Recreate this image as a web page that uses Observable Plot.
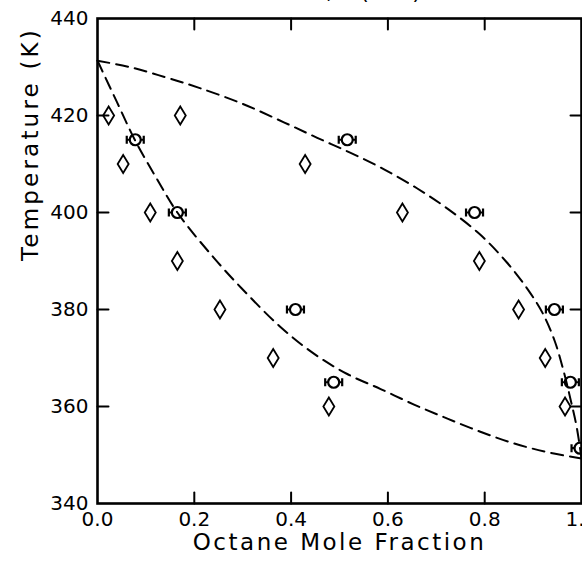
<!DOCTYPE html>
<html>
<head>
<meta charset="utf-8">
<script src="https://cdn.jsdelivr.net/npm/d3@7"></script>
<script src="https://cdn.jsdelivr.net/npm/@observablehq/plot@0.6"></script>
<style>
  html, body { margin: 0; padding: 0; background: #fff; overflow: hidden; }
  #chart svg { display: block; overflow: hidden; }
</style>
</head>
<body>
<div id="chart"></div>
<script>
// ---- data ----
const titleText = "Isobar, P (atm)";
const xLabel = "Octane Mole Fraction";
const yLabel = "Temperature (K)";

const xTickLabels = [0, 0.2, 0.4, 0.6, 0.8, 1.0];
const xTickInner = [0.2, 0.4, 0.6, 0.8];
const yTickLabels = [340, 360, 380, 400, 420, 440];
const yTickInner = [360, 380, 400, 420];

// experimental points: diamonds
const diamondX = [0.023, 0.053, 0.171, 0.109, 0.165, 0.253, 0.363, 0.478, 0.429, 0.630, 0.789, 0.870, 0.925, 0.966];
const diamondT = [420, 410, 420, 400, 390, 380, 370, 360, 410, 400, 390, 380, 370, 360];

// experimental points: circles (with small horizontal bars)
const circleX = [0.078, 0.165, 0.409, 0.488, 0.516, 0.779, 0.944, 0.977, 0.997];
const circleT = [415, 400, 380, 365, 415, 400, 380, 365, 351.4];

// dashed curves
const bubbleX = [0, 0.04, 0.078, 0.12, 0.165, 0.24, 0.309, 0.378, 0.447, 0.516, 0.585, 0.654, 0.723, 0.791, 0.86, 0.929, 1.0];
const bubbleT = [431.3, 422.8, 414.8, 407.4, 400, 390.7, 383.2, 376.4, 370.9, 366.7, 363.6, 360.4, 357.5, 354.8, 352.4, 350.6, 349.3];
const dewX = [0, 0.07, 0.14, 0.21, 0.30, 0.385, 0.454, 0.523, 0.592, 0.66, 0.723, 0.79, 0.845, 0.89, 0.92, 0.945, 0.963, 0.978, 0.99, 1.0];
const dewT = [431.3, 429.9, 427.9, 425.7, 422.4, 418.6, 415.4, 412.3, 408.9, 405, 400.8, 395.5, 389.8, 384, 379.2, 373.4, 367.3, 361.2, 355.8, 349.3];

// ---- tables ----
const diamonds = diamondX.map((x, i) => ({x, t: diamondT[i]}));
const circles = circleX.map((x, i) => ({x, t: circleT[i]}));
const bubble = bubbleX.map((x, i) => ({x, t: bubbleT[i]}));
const dew = dewX.map((x, i) => ({x, t: dewT[i]}));

// ---- marker shapes ----
const diamondSym = {
  draw(ctx) {
    ctx.moveTo(0, -9); ctx.lineTo(5.5, 0); ctx.lineTo(0, 9); ctx.lineTo(-5.5, 0); ctx.closePath();
  }
};
const circleSym = {
  draw(ctx) {
    const r = 5.5, w = 8.5, h = 4;
    ctx.moveTo(r, 0); ctx.arc(0, 0, r, 0, 2 * Math.PI);
    ctx.moveTo(r, 0); ctx.lineTo(w, 0);
    ctx.moveTo(-r, 0); ctx.lineTo(-w, 0);
    ctx.moveTo(w, -h); ctx.lineTo(w, h);
    ctx.moveTo(-w, -h); ctx.lineTo(-w, h);
  }
};

const W = 582, H = 561, ML = 97, MR = 1, MT = 18, MB = 58;
const TICK = 11;
const xDomain = [0, 1], yDomain = [340, 440];
const frameW = W - ML - MR, frameH = H - MT - MB;
// tick length converted into data units
const tx = TICK / frameW * (xDomain[1] - xDomain[0]);
const ty = TICK / frameH * (yDomain[1] - yDomain[0]);

// inward tick segments built from the tick arrays
const tickSegs = [];
xTickInner.forEach((v, i) => {
  tickSegs.push({k: "b" + i, x: v, t: yDomain[0]}, {k: "b" + i, x: v, t: yDomain[0] + ty});
  tickSegs.push({k: "t" + i, x: v, t: yDomain[1]}, {k: "t" + i, x: v, t: yDomain[1] - ty});
});
yTickInner.forEach((v, i) => {
  tickSegs.push({k: "l" + i, x: xDomain[0], t: v}, {k: "l" + i, x: xDomain[0] + tx, t: v});
  tickSegs.push({k: "r" + i, x: xDomain[1], t: v}, {k: "r" + i, x: xDomain[1] - tx, t: v});
});

const fmt = d3.format(".1f");

const chart = Plot.plot({
  width: W,
  height: H,
  marginLeft: ML,
  marginRight: MR,
  marginTop: MT,
  marginBottom: MB,
  style: {fontFamily: "'DejaVu Sans', sans-serif", fontSize: "20px", color: "black", background: "white"},
  x: {domain: xDomain},
  y: {domain: yDomain},
  marks: [
    // tick labels
    Plot.axisX({anchor: "bottom", ticks: xTickLabels, tickFormat: fmt, tickSize: 0, tickPadding: 8, label: null}),
    Plot.axisY({anchor: "left", ticks: yTickLabels, tickSize: 0, tickPadding: 9, label: null}),
    // curves
    Plot.line(bubble, {x: "x", y: "t", curve: "catmull-rom", stroke: "black", strokeWidth: 2, strokeDasharray: "12,7"}),
    Plot.line(dew, {x: "x", y: "t", curve: "catmull-rom", stroke: "black", strokeWidth: 2, strokeDasharray: "12,7"}),
    // points
    Plot.dot(diamonds, {x: "x", y: "t", symbol: diamondSym, r: 6, stroke: "black", strokeWidth: 1.8, fill: "none"}),
    Plot.dot(circles, {x: "x", y: "t", symbol: circleSym, r: 6, stroke: "black", strokeWidth: 2.2, fill: "none"}),
    // frame
    Plot.frame({stroke: "black", strokeWidth: 2.6}),
    // inward ticks on all four sides
    Plot.line(tickSegs, {x: "x", y: "t", z: "k", stroke: "black", strokeWidth: 2, curve: "linear"}),
    // labels
    Plot.text([xLabel], {frameAnchor: "bottom", dy: 46, text: d => d, fontSize: 23, fill: "black"}),
    Plot.text([yLabel], {frameAnchor: "left", dx: -67, rotate: -90, text: d => d, fontSize: 23, fill: "black"}),
    Plot.text([titleText], {frameAnchor: "top", dy: -20, lineAnchor: "bottom", text: d => d, fontSize: 22, fill: "black"})
  ]
});

d3.select(chart).selectAll("text")
  .filter(function() { return this.textContent === xLabel; })
  .attr("letter-spacing", 2.5);
d3.select(chart).selectAll("text")
  .filter(function() { return this.textContent === yLabel; })
  .attr("letter-spacing", 3.2);

document.getElementById("chart").appendChild(chart);
</script>
</body>
</html>
